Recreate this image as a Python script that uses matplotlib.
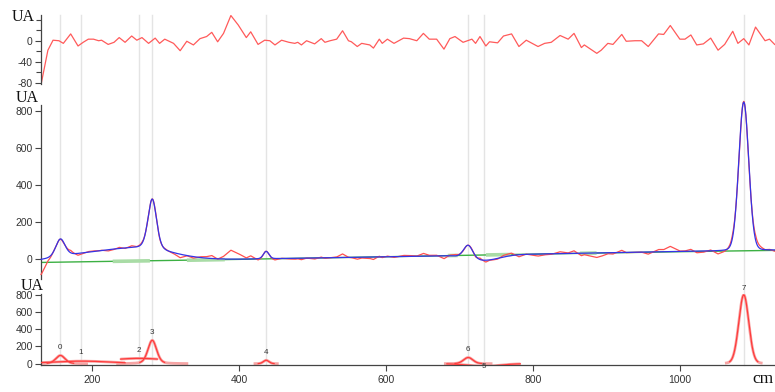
import numpy as np
import matplotlib
matplotlib.use("Agg")
import matplotlib.pyplot as plt
from matplotlib.lines import Line2D
from matplotlib.transforms import blended_transform_factory

plt.rcParams["axes.unicode_minus"] = False

# ---------------- data ----------------
res_x = [131, 135, 140, 147, 155, 161, 171, 181, 188, 195,
         202, 209, 213, 222, 230, 237, 245, 254, 261, 268,
         277, 286, 292, 299, 311, 320, 329, 338, 347, 356,
         363, 371, 379, 389, 399, 410, 416, 426, 435, 442,
         449, 458, 468, 476, 480, 485, 492, 503, 512, 517,
         524, 533, 541, 549, 553, 561, 567, 578, 583, 591,
         595, 602, 611, 624, 632, 642, 651, 659, 669, 679,
         687, 694, 705, 717, 722, 728, 736, 741, 752, 760,
         771, 781, 791, 807, 816, 825, 837, 848, 856, 866,
         870, 887, 893, 902, 909, 921, 927, 939, 948, 957,
         971, 978, 987, 1000, 1007, 1015, 1023, 1032, 1042, 1052,
         1061, 1072, 1079, 1087, 1094, 1103, 1116, 1122, 1129]
res_y = [-81, -53, -18, 1, 0, -5, 13, -10, -3, 3,
         3, 0, 1, -7, -3, 6, -3, 9, 1, 6,
         -5, 5, -5, 3, -5, -19, -1, -8, 4, 8,
         16, -2, 14, 48, 30, 6, 17, -7, 1, 0,
         -8, 1, -3, -5, -3, -8, 0, -6, 4, -3,
         0, 3, 19, 0, -2, -11, -5, -8, -14, 3,
         -5, 3, -5, 5, 4, 0, 14, 3, 3, -16,
         4, 8, -3, 3, -5, 8, -10, -2, -4, 9,
         13, -11, 1, -11, -5, -3, 10, 3, 14, -13,
         -8, -24, -18, -5, -7, 12, -1, 0, 0, -11,
         13, 12, 29, 3, 3, 11, -8, -6, 5, -18,
         -7, 18, -5, 4, -8, 26, 0, 3, -7]

base_x = [130, 350, 600, 950, 1130]
base_y = [-17, -4, 14, 38, 48]

peak_ids = ["0", "1", "2", "3", "4", "5", "6", "7"]
peak_center = [157, 185, 264, 282, 437, 733, 712, 1087]
peak_height = [96, 30, 62, 272, 40, -30, 72, 800]
peak_fwhm = [15, 100, 110, 14, 9, 50, 15, 16]
peak_eta = [0.3, 0.0, 0.0, 0.3, 0.2, 0.0, 0.2, 0.08]

green_ranges = [(228, 279), (329, 381), (684, 698), (736, 771), (864, 887)]

x_ticks = [200, 400, 600, 800, 1000]
top_ticks = [-80, -40, 0]
top_minor = [-60, -20, 20, 40]
mid_ticks = [0, 200, 400, 600, 800]
bot_ticks = [0, 200, 400, 600, 800]

# style (display windows of the individual peaks, in fwhm units)
peak_span = [2.5, 0.6, 0.23, 3.5, 1.9, 1.0, 2.2, 1.6]

# ---------------- model ----------------
def pv(x, c, h, w, eta):
    g = np.exp(-4 * np.log(2) * ((x - c) / w) ** 2)
    l = 1.0 / (1 + (2 * (x - c) / w) ** 2)
    return h * ((1 - eta) * g + eta * l)

XMIN, XMAX = 130.6, 1129.5
xd = np.linspace(XMIN, XMAX, 3000)
base = np.interp(xd, base_x, base_y)
fit = base.copy()
for c, h, w, e in zip(peak_center, peak_height, peak_fwhm, peak_eta):
    fit += pv(xd, c, h, w, e)
data = fit + np.interp(xd, res_x, res_y)

# ---------------- figure ----------------
W, H = 775, 392
fig = plt.figure(figsize=(W / 100, H / 100), dpi=100)
fig.patch.set_facecolor("white")

def fx(px):
    return px / W

def fy(py):
    return 1 - py / H

L = 41
ax1 = fig.add_axes([fx(L), fy(83.8), (W - L) / W, 68.8 / H])
ax2 = fig.add_axes([fx(L), fy(278.8), (W - L) / W, 173.8 / H])
ax3 = fig.add_axes([fx(L), fy(365), (W - L) / W, 71 / H])

tick_col = "#333333"
spine_col = "#444444"
for ax in (ax1, ax2, ax3):
    ax.set_facecolor("none")
    ax.set_xlim(XMIN, XMAX)
    for s in ("top", "right", "bottom"):
        ax.spines[s].set_visible(False)
    ax.spines["left"].set_color(spine_col)
    ax.spines["left"].set_linewidth(0.9)
    ax.tick_params(axis="y", direction="out", length=4.5, width=0.8,
                   colors=spine_col, labelcolor=tick_col, labelsize=7.5, pad=1.5)
    ax.tick_params(axis="x", bottom=False, labelbottom=False)

# vertical grey lines through all panels
trans = blended_transform_factory(ax3.transData, fig.transFigure)
for c in peak_center:
    fig.add_artist(Line2D([c, c], [fy(15), fy(365)], transform=trans,
                          color="#e4e4e4", lw=1.0, zorder=-1))

# top: residual
ax1.plot(res_x, res_y, color="#ff5a5a", lw=0.9)
ax1.set_ylim(-82, 49)
ax1.set_yticks(top_ticks)
ax1.set_yticks(top_minor, minor=True)
ax1.tick_params(axis="y", which="minor", length=3.5, width=0.8, colors=spine_col)

# middle: data, fit, baseline
ax2.plot(xd, base, color="#3cb043", lw=1.0, zorder=2)
for a, b in green_ranges:
    m = (xd >= a) & (xd <= b)
    ax2.plot(xd[m], base[m], color="#a9dca6", lw=2.6, zorder=2.5, solid_capstyle="butt")
ax2.plot(xd, data, color="#ff5050", lw=0.9, zorder=3, clip_on=False)
ax2.plot(xd, fit, color="#3434e6", lw=0.9, zorder=4, clip_on=False)
ax2.set_ylim(-105, 830)
ax2.set_yticks(mid_ticks)

# bottom: individual peaks
for pid, c, h, w, e, sp in zip(peak_ids, peak_center, peak_height, peak_fwhm,
                               peak_eta, peak_span):
    xo = np.linspace(c - sp * w, c + sp * w, 300)
    ax3.plot(xo, pv(xo, c, h, w, e), color="#f7a5a5", lw=2.0, solid_capstyle="butt", zorder=2)
    hw = min(1.2, sp) * w
    xi = np.linspace(c - hw, c + hw, 300)
    ax3.plot(xi, pv(xi, c, h, w, e), color="#ff3b3b", lw=0.9, zorder=3)
    ly = h + 95 if h > 0 else h - 5
    if h >= 700:
        ly = h + 70
    ax3.text(c, ly, pid, ha="center", va="center", fontsize=5.8, color=tick_col,
             family=["Liberation Sans", "DejaVu Sans"], clip_on=False)
ax3.set_ylim(-15, 810)
ax3.set_yticks(bot_ticks)
ax3.spines["bottom"].set_visible(True)
ax3.spines["bottom"].set_color(spine_col)
ax3.spines["bottom"].set_linewidth(0.9)
ax3.set_xticks(x_ticks)
ax3.tick_params(axis="x", bottom=True, labelbottom=True, direction="out", length=4.5,
                width=0.8, colors=spine_col, labelcolor=tick_col, labelsize=7.5, pad=3)

for ax in (ax1, ax2, ax3):
    for lab in ax.get_xticklabels() + ax.get_yticklabels():
        lab.set_family(["Liberation Sans", "DejaVu Sans"])

# axis unit labels
serif = ["Liberation Serif", "DejaVu Serif"]
fig.text(fx(12), fy(20.7), "UA", family=serif, fontsize=11.5, color="#111111", va="baseline")
fig.text(fx(16), fy(102.3), "UA", family=serif, fontsize=11.5, color="#111111", va="baseline")
fig.text(fx(20.5), fy(290), "UA", family=serif, fontsize=11.5, color="#111111", va="baseline")
fig.text(fx(752), fy(383.3), "cm", family=serif, fontsize=12.5, color="#111111", va="baseline")

fig.savefig("out.png", dpi=100, facecolor="white")
